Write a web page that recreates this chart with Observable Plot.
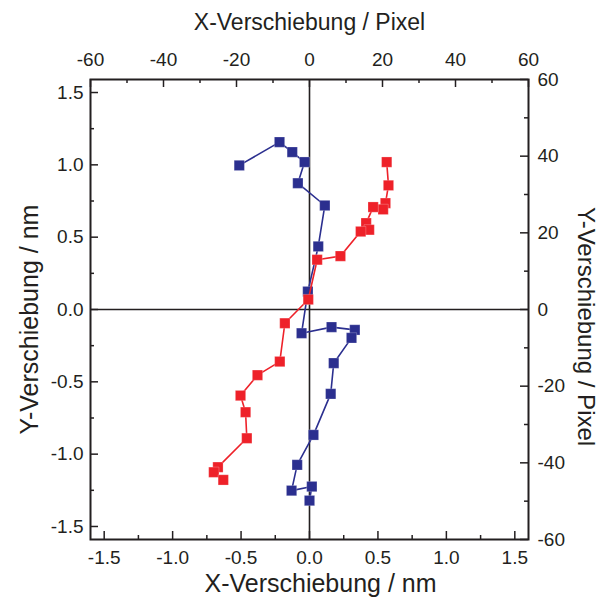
<!DOCTYPE html>
<html>
<head>
<meta charset="utf-8">
<script src="https://cdn.jsdelivr.net/npm/d3@7"></script>
<script src="https://cdn.jsdelivr.net/npm/@observablehq/plot@0.6"></script>
<style>
  html, body { margin: 0; padding: 0; background: #fff; }
  #chart { width: 600px; height: 605px; }
  svg { font-family: "Liberation Sans", Arial, sans-serif; }
</style>
</head>
<body>
<div id="chart"></div>
<script>
// ---- data (nm) ----
const blueX = [-0.513, -0.219, -0.126, -0.036, -0.085, 0.112, 0.064, -0.012, -0.058, 0.161, 0.331, 0.307, 0.177, 0.155, 0.029, -0.090, -0.131, 0.017, 0.000];
const blueY = [0.996, 1.157, 1.088, 1.019, 0.873, 0.719, 0.436, 0.124, -0.164, -0.122, -0.141, -0.196, -0.371, -0.583, -0.867, -1.074, -1.252, -1.224, -1.321];
const redX = [0.564, 0.577, 0.555, 0.538, 0.465, 0.414, 0.436, 0.374, 0.226, 0.056, -0.009, -0.180, -0.217, -0.380, -0.504, -0.467, -0.458, -0.669, -0.699, -0.630];
const redY = [1.019, 0.858, 0.735, 0.692, 0.708, 0.597, 0.551, 0.539, 0.369, 0.344, 0.069, -0.095, -0.360, -0.454, -0.595, -0.710, -0.890, -1.090, -1.125, -1.178];

// ---- axes / ticks ----
const xTicksNm = [-1.5, -1.0, -0.5, 0.0, 0.5, 1.0, 1.5];
const xMinorNm = [-1.25, -0.75, -0.25, 0.25, 0.75, 1.25];
const yTicksNm = [-1.5, -1.0, -0.5, 0.0, 0.5, 1.0, 1.5];
const yMinorNm = [-1.25, -0.75, -0.25, 0.25, 0.75, 1.25];
const pxTicks = [-60, -40, -20, 0, 20, 40, 60];
const pxMinor = [-50, -30, -10, 10, 30, 50];
const xTitleBottom = "X-Verschiebung / nm";
const xTitleTop = "X-Verschiebung / Pixel";
const yTitleLeft = "Y-Verschiebung / nm";
const yTitleRight = "Y-Verschiebung / Pixel";

const xDomain = [-1.6, 1.6];
const yDomain = [-1.59, 1.59];
const kx = xDomain[1] / 60;  // nm per pixel (x)
const ky = yDomain[1] / 60;  // nm per pixel (y)

const blueC = "#2b2f8f";
const redC = "#ee2129";
const ink = "#231f20";

const blue = blueX.map((x, i) => ({x, y: blueY[i]}));
const red = redX.map((x, i) => ({x, y: redY[i]}));

const W = 600, H = 605;
const mL = 90, mR = 72, mT = 79, mB = 66;
const innerW = W - mL - mR, innerH = H - mT - mB;
const fmt = d => d.toFixed(1);
const tickFont = 19;

const chart = Plot.plot({
  width: W, height: H,
  marginLeft: mL, marginRight: mR, marginTop: mT, marginBottom: mB,
  x: {domain: xDomain},
  y: {domain: yDomain},
  style: {fontFamily: '"Liberation Sans", Arial, sans-serif', color: ink, background: "white"},
  marks: [
    // tick labels
    Plot.axisX({anchor: "bottom", ticks: xTicksNm, tickSize: 0, tickPadding: 11, tickFormat: fmt, fontSize: tickFont, label: null}),
    Plot.axisX({anchor: "top", ticks: pxTicks.map(p => p * kx), tickSize: 0, tickPadding: 14, tickFormat: d => String(Math.round(d / kx)), fontSize: tickFont, label: null}),
    Plot.axisY({anchor: "left", ticks: yTicksNm, tickSize: 0, tickPadding: 7, tickFormat: fmt, fontSize: tickFont, label: null}),
    Plot.axisY({anchor: "right", ticks: pxTicks.map(p => p * ky), tickSize: 0, tickPadding: 9, tickFormat: d => String(Math.round(d / ky)), fontSize: tickFont, label: null}),
    // inward ticks
    Plot.tickX(xTicksNm, {x: d => d, insetTop: innerH - 8, stroke: ink, strokeWidth: 1.5}),
    Plot.tickX(xMinorNm, {x: d => d, insetTop: innerH - 4, stroke: ink, strokeWidth: 1.5}),
    Plot.tickX(pxTicks.map(p => p * kx), {x: d => d, insetBottom: innerH - 8, stroke: ink, strokeWidth: 1.5}),
    Plot.tickX(pxMinor.map(p => p * kx), {x: d => d, insetBottom: innerH - 4, stroke: ink, strokeWidth: 1.5}),
    Plot.tickY(yTicksNm, {y: d => d, insetRight: innerW - 8, stroke: ink, strokeWidth: 1.5}),
    Plot.tickY(yMinorNm, {y: d => d, insetRight: innerW - 4, stroke: ink, strokeWidth: 1.5}),
    Plot.tickY(pxTicks.map(p => p * ky), {y: d => d, insetLeft: innerW - 8, stroke: ink, strokeWidth: 1.5}),
    Plot.tickY(pxMinor.map(p => p * ky), {y: d => d, insetLeft: innerW - 4, stroke: ink, strokeWidth: 1.5}),
    // zero lines
    Plot.ruleX([0], {stroke: ink, strokeWidth: 1.6}),
    Plot.ruleY([0], {stroke: ink, strokeWidth: 1.6}),
    Plot.frame({stroke: ink, strokeWidth: 2}),
    // series
    Plot.line(blue, {x: "x", y: "y", stroke: blueC, strokeWidth: 1.6}),
    Plot.dot(blue, {x: "x", y: "y", symbol: "square", r: 5.8, fill: blueC, stroke: "white", strokeWidth: 0.4, strokeOpacity: 0.6}),
    Plot.line(red, {x: "x", y: "y", stroke: redC, strokeWidth: 1.6}),
    Plot.dot(red, {x: "x", y: "y", symbol: "square", r: 5.8, fill: redC, stroke: "white", strokeWidth: 0.4, strokeOpacity: 0.6}),
    // titles
    Plot.text([xTitleBottom], {frameAnchor: "bottom", textAnchor: "middle", text: d => d, dy: 52, dx: 11, fontSize: 25, fill: ink}),
    Plot.text([xTitleTop], {frameAnchor: "top", textAnchor: "middle", text: d => d, dy: -66, dx: 0, fontSize: 23, fill: ink}),
    Plot.text([yTitleLeft], {frameAnchor: "left", textAnchor: "middle", text: d => d, rotate: -90, dx: -61, dy: 10, fontSize: 25, fill: ink}),
    Plot.text([yTitleRight], {frameAnchor: "right", textAnchor: "middle", text: d => d, rotate: 90, dx: 57, dy: 17, fontSize: 24, fill: ink})
  ]
});
document.getElementById("chart").appendChild(chart);
</script>
</body>
</html>
